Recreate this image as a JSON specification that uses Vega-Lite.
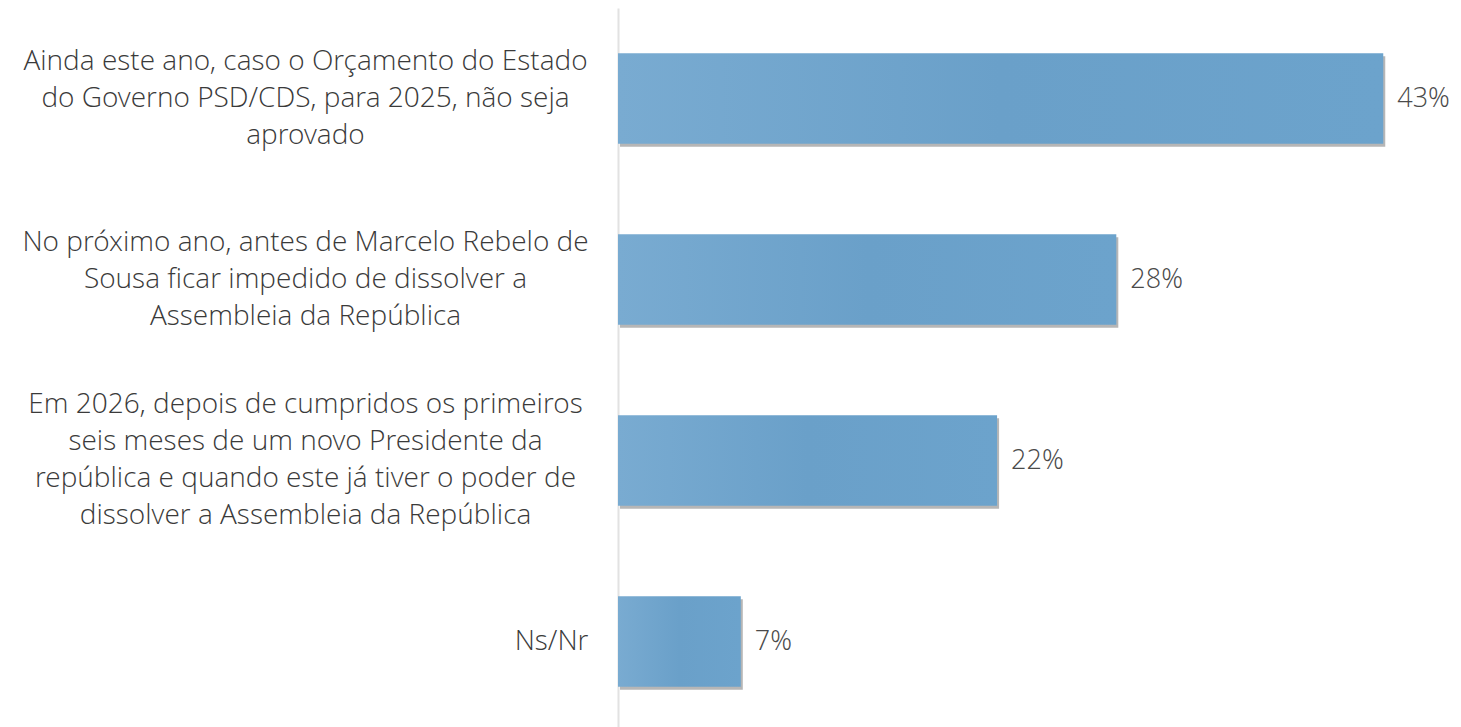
{
  "$schema": "https://vega.github.io/schema/vega-lite/v6.json",
  "autosize": "none",
  "width": 840,
  "height": 724,
  "padding": {"left": 618, "top": 8, "right": 3, "bottom": 0},
  "background": "#ffffff",
  "config": {"view": {"stroke": null}},
  "data": {"values": [
    {"cat": "Ainda este ano, caso o Orçamento do Estado|do Governo PSD/CDS, para 2025, não seja|aprovado", "pct": 43, "label": "43%"},
    {"cat": "No próximo ano, antes de Marcelo Rebelo de|Sousa ficar impedido de dissolver a|Assembleia da República", "pct": 28, "label": "28%"},
    {"cat": "Em 2026, depois de cumpridos os primeiros|seis meses de um novo Presidente da|república e quando este já tiver o poder de|dissolver a Assembleia da República", "pct": 21.3, "label": "22%"},
    {"cat": "Ns/Nr", "pct": 6.9, "label": "7%"}
  ]},
  "encoding": {
    "y": {"field": "cat", "type": "nominal", "sort": null,
      "scale": {"paddingInner": 0.5, "paddingOuter": 0.25},
      "axis": {"title": null, "ticks": false, "domainColor": "#e2e2e2", "domainWidth": 2,
        "labelExpr": "split(datum.label, '|')",
        "labelFont": "Open Sans Light, Open Sans", "labelFontWeight": 300, "labelFontSize": 28, "labelColor": "#3a3a3a",
        "labelLineHeight": 37, "labelLimit": 0,
        "labelAlign": {"expr": "datum.value == 'Ns/Nr' ? 'right' : 'center'"},
        "labelPadding": {"expr": "datum.value == 'Ns/Nr' ? 30 : 313"},
        "labelOffset": {"expr": "-(length(split(datum.value, '|')) - 1) * 18.5"}}},
    "x": {"field": "pct", "type": "quantitative", "scale": {"domain": [0, 47.2]}, "axis": null}
  },
  "layer": [
    {"mark": {"type": "bar", "color": "#6e6e6e", "opacity": 0.5, "yOffset": 3, "xOffset": 2, "x2Offset": 2}},
    {"mark": {"type": "bar", "color": {"gradient": "linear", "x1": 0, "x2": 1, "y1": 0, "y2": 0,
      "stops": [{"offset": 0, "color": "#79abd1"}, {"offset": 0.5, "color": "#6aa0c9"}, {"offset": 1, "color": "#6ca3cc"}]}}},
    {"mark": {"type": "text", "align": "left", "dx": 14, "font": "Open Sans Light, Open Sans", "fontWeight": 300, "fontSize": 27, "color": "#4a4a4a"},
      "encoding": {"text": {"field": "label", "type": "nominal"}}}
  ]
}
